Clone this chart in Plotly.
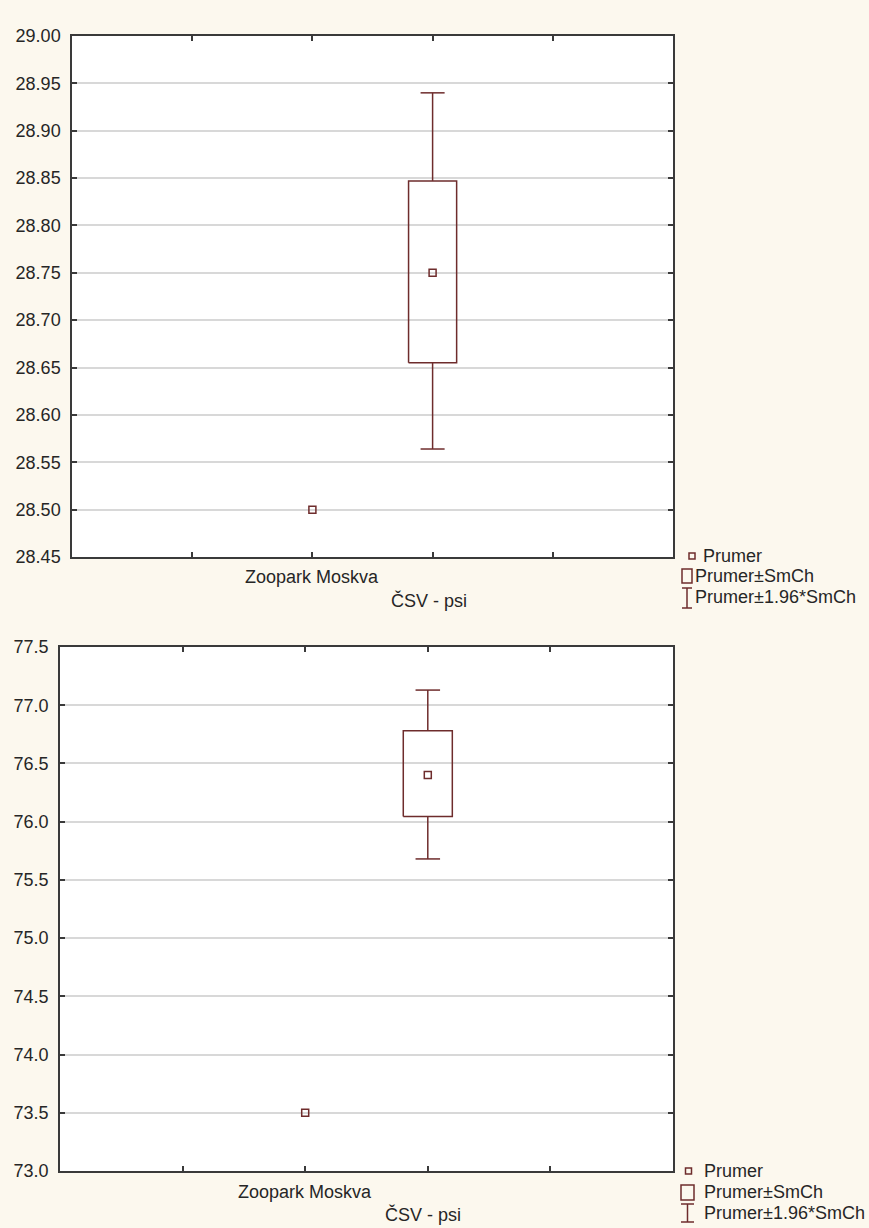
import plotly.graph_objects as go

# ---- data -------------------------------------------------------------
category_labels = ["Zoopark Moskva"]
variable_title = "ČSV - psi"
legend_labels = ["Prumer", "Prumer±SmCh", "Prumer±1.96*SmCh"]

# panel 1
p1_point_x = [2]
p1_point_y = [28.50]
p1_box_x = [3]
p1_mean = [28.75]
p1_box_low = [28.655]
p1_box_high = [28.847]
p1_whisk_low = [28.564]
p1_whisk_high = [28.940]
p1_yrange = [28.45, 29.00]

# panel 2
p2_point_x = [2]
p2_point_y = [73.50]
p2_box_x = [3]
p2_mean = [76.40]
p2_box_low = [76.045]
p2_box_high = [76.78]
p2_whisk_low = [75.68]
p2_whisk_high = [77.13]
p2_yrange = [73.0, 77.5]

# ---- style ------------------------------------------------------------
W, H = 869, 1228
MAROON = "#6E2C2C"
FRAME = "#3A3A3A"
GRID = "#D8D8D8"
TEXT = "#262626"
BG = "#FCF8EE"
FONT = "Liberation Sans"
FS = 18
BOX_HALF = 0.2
CAP_HALF = 0.1


def px_x(v):
    return v / W


def px_y(v):
    return 1 - v / H


fig = go.Figure()


def add_panel(xa, ya, pt_x, pt_y, bx, mean, blo, bhi, wlo, whi):
    # standalone mean point
    fig.add_trace(go.Scatter(
        x=pt_x, y=pt_y, mode="markers", xaxis=xa, yaxis=ya,
        marker=dict(symbol="square-open", size=7, color=MAROON,
                    line=dict(width=1.5, color=MAROON)),
        showlegend=False, hoverinfo="skip"))
    for x, m, lo, hi, wl, wh in zip(bx, mean, blo, bhi, wlo, whi):
        # box: mean ± SE
        fig.add_trace(go.Scatter(
            x=[x - BOX_HALF, x + BOX_HALF, x + BOX_HALF, x - BOX_HALF, x - BOX_HALF],
            y=[lo, lo, hi, hi, lo], mode="lines", xaxis=xa, yaxis=ya,
            line=dict(color=MAROON, width=1.5), showlegend=False, hoverinfo="skip"))
        # whiskers and caps: mean ± 1.96*SE
        fig.add_trace(go.Scatter(
            x=[x, x, None, x, x, None,
               x - CAP_HALF, x + CAP_HALF, None, x - CAP_HALF, x + CAP_HALF],
            y=[hi, wh, None, lo, wl, None, wh, wh, None, wl, wl],
            mode="lines", xaxis=xa, yaxis=ya,
            line=dict(color=MAROON, width=1.5), showlegend=False, hoverinfo="skip"))
        # mean marker
        fig.add_trace(go.Scatter(
            x=[x], y=[m], mode="markers", xaxis=xa, yaxis=ya,
            marker=dict(symbol="square-open", size=7, color=MAROON,
                        line=dict(width=1.5, color=MAROON)),
            showlegend=False, hoverinfo="skip"))


add_panel("x", "y", p1_point_x, p1_point_y, p1_box_x, p1_mean,
          p1_box_low, p1_box_high, p1_whisk_low, p1_whisk_high)
add_panel("x2", "y2", p2_point_x, p2_point_y, p2_box_x, p2_mean,
          p2_box_low, p2_box_high, p2_whisk_low, p2_whisk_high)

xaxis_common = dict(range=[0, 5], tickvals=[1, 2, 3, 4], showticklabels=False,
                    ticks="inside", ticklen=5, tickcolor=FRAME, tickwidth=1.5,
                    showline=True, linecolor=FRAME, linewidth=1.5, mirror="ticks",
                    showgrid=False, zeroline=False, fixedrange=True, automargin=False)
yaxis_common = dict(ticks="inside", ticklen=5, tickcolor=FRAME, tickwidth=1.5,
                    showline=True, linecolor=FRAME, linewidth=1.5, mirror="ticks",
                    showgrid=True, gridcolor=GRID, gridwidth=1.5, zeroline=False,
                    tickfont=dict(family=FONT, size=FS, color=TEXT),
                    ticklabelstandoff=6, fixedrange=True, automargin=False)

fig.update_layout(
    width=W, height=H,
    margin=dict(l=0, r=0, t=0, b=0, pad=0, autoexpand=False),
    paper_bgcolor=BG, plot_bgcolor="white",
    showlegend=False,
    xaxis=dict(domain=[px_x(72), px_x(673)], anchor="y", **xaxis_common),
    yaxis=dict(domain=[px_y(557), px_y(36)], anchor="x", range=p1_yrange,
               dtick=0.05, tickformat=".2f", **yaxis_common),
    xaxis2=dict(domain=[px_x(60), px_x(673)], anchor="y2", **xaxis_common),
    yaxis2=dict(domain=[px_y(1171), px_y(647)], anchor="x2", range=p2_yrange,
                dtick=0.5, tickformat=".1f", **yaxis_common),
)

annotations = []
shapes = []


def add_labels(xa, cat_y, title_x, title_y):
    annotations.append(dict(x=p1_point_x[0], y=px_y(cat_y), xref=xa, yref="paper",
                            text=category_labels[0], showarrow=False,
                            xanchor="center", yanchor="middle",
                            font=dict(family=FONT, size=FS, color=TEXT)))
    annotations.append(dict(x=px_x(title_x), y=px_y(title_y), xref="paper", yref="paper",
                            text=variable_title, showarrow=False,
                            xanchor="center", yanchor="middle",
                            font=dict(family=FONT, size=FS, color=TEXT)))


def add_legend(sq_c, box_x0, box_x1, box_y0, box_y1, bar_y0, bar_y1, text_xs, text_ys):
    cx, cy = sq_c
    shapes.append(dict(type="rect", xref="paper", yref="paper",
                       x0=px_x(cx - 3), x1=px_x(cx + 3), y0=px_y(cy - 3), y1=px_y(cy + 3),
                       line=dict(color=MAROON, width=1.5), fillcolor="rgba(0,0,0,0)"))
    shapes.append(dict(type="rect", xref="paper", yref="paper",
                       x0=px_x(box_x0), x1=px_x(box_x1), y0=px_y(box_y0), y1=px_y(box_y1),
                       line=dict(color=MAROON, width=1.5), fillcolor="rgba(0,0,0,0)"))
    mid = (box_x0 + box_x1) / 2
    for (xa0, ya0, xa1, ya1) in [(mid, bar_y0, mid, bar_y1),
                                 (box_x0, bar_y0, box_x1, bar_y0),
                                 (box_x0, bar_y1, box_x1, bar_y1)]:
        shapes.append(dict(type="line", xref="paper", yref="paper",
                           x0=px_x(xa0), x1=px_x(xa1), y0=px_y(ya0), y1=px_y(ya1),
                           line=dict(color=MAROON, width=1.5)))
    for lbl, tx, ty in zip(legend_labels, text_xs, text_ys):
        annotations.append(dict(x=px_x(tx), y=px_y(ty), xref="paper", yref="paper",
                                text=lbl, showarrow=False, xanchor="left", yanchor="middle",
                                font=dict(family=FONT, size=FS, color=TEXT)))


add_labels("x", 577, 429, 600)
add_labels("x2", 1192, 423, 1214)
add_legend((692, 556), 682, 692, 569, 583, 588, 608, [701, 693, 693], [556, 576, 597])
add_legend((688.5, 1171), 681, 694, 1185, 1200, 1204, 1222, [702, 702, 702], [1171, 1192, 1213])

fig.update_layout(annotations=annotations, shapes=shapes)

fig.write_html("out.html")
